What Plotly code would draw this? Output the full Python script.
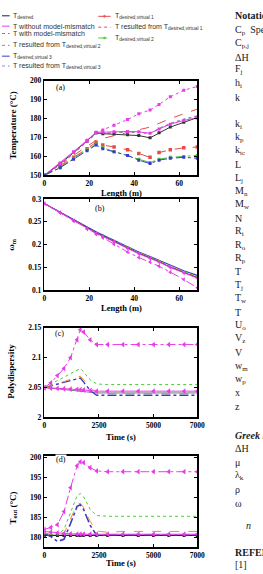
import plotly.graph_objects as go

W, H = 263, 574

# ---------------- data ----------------
length_m = [0, 7, 13, 19, 23, 26, 31, 37, 42, 47, 51, 56, 62, 68]

temp_desired = [150, 156, 162, 168, 172.5, 172, 171.8, 171.5, 171, 169.8, 172.5, 175.5, 178, 180.5]
temp_without = [150, 156.5, 162.5, 168.5, 172.8, 172.8, 173, 173.2, 173, 172.2, 174.5, 177, 179, 180.5]
temp_with = [150, 156, 162, 168, 172.5, 174, 176.5, 179.5, 182.5, 184.5, 187.5, 191.5, 195, 197]
temp_v1 = [150, 154.5, 159.5, 164, 167.5, 166, 165, 163.5, 161.5, 159.5, 162, 163.5, 164.5, 165]
temp_from_v1 = [150, 155, 160.5, 165.5, 168.5, 169.5, 171, 172.5, 174, 175.5, 177.5, 180, 182.5, 185]
temp_v2 = [150, 154, 159, 163.5, 166.5, 164.5, 162.5, 160.5, 158.5, 156.8, 158.5, 159.5, 160, 160.5]
temp_from_v2 = [150, 155.5, 161.5, 167.5, 172, 172.3, 172.5, 172.8, 172.5, 172, 174.5, 177.3, 179.5, 181.3]
temp_v3 = [150, 154, 158.5, 163, 166, 164, 162.5, 160.5, 158, 156.2, 158, 159, 159.5, 159]
temp_from_v3 = [150, 155.5, 161.5, 167.5, 172, 172.2, 172.6, 173, 172.8, 172.3, 174.8, 177.5, 179.8, 181.5]

wm_desired = [0.29, 0.27, 0.253, 0.236, 0.226, 0.219, 0.207, 0.193, 0.181, 0.171, 0.163, 0.151, 0.139, 0.128]
wm_without = [0.29, 0.27, 0.252, 0.235, 0.225, 0.218, 0.206, 0.192, 0.180, 0.170, 0.162, 0.150, 0.138, 0.127]
wm_with = [0.29, 0.27, 0.252, 0.234, 0.223, 0.215, 0.201, 0.184, 0.172, 0.162, 0.153, 0.14, 0.124, 0.106]
wm_from_v1 = [0.29, 0.27, 0.253, 0.236, 0.226, 0.219, 0.207, 0.193, 0.182, 0.172, 0.164, 0.152, 0.140, 0.129]
wm_from_v2 = [0.29, 0.271, 0.253, 0.237, 0.227, 0.220, 0.208, 0.194, 0.183, 0.173, 0.165, 0.153, 0.141, 0.130]
wm_from_v3 = [0.29, 0.271, 0.254, 0.238, 0.228, 0.221, 0.209, 0.195, 0.184, 0.174, 0.166, 0.155, 0.143, 0.133]

time_s = [0, 300, 600, 900, 1200, 1500, 1650, 1800, 2100, 2400, 2900, 3600, 4300, 5000, 5700, 6400, 7000]

pd_with = [2.05, 2.058, 2.07, 2.082, 2.1, 2.13, 2.147, 2.143, 2.13, 2.122, 2.122, 2.122, 2.122, 2.122, 2.122, 2.122, 2.122]
pd_from_v2 = [2.05, 2.056, 2.062, 2.068, 2.074, 2.08, 2.082, 2.076, 2.063, 2.056, 2.055, 2.055, 2.055, 2.055, 2.055, 2.055, 2.055]
pd_from_v1 = [2.05, 2.053, 2.056, 2.06, 2.064, 2.068, 2.069, 2.063, 2.05, 2.041, 2.040, 2.040, 2.040, 2.040, 2.040, 2.040, 2.040]
pd_from_v3 = [2.05, 2.053, 2.056, 2.059, 2.062, 2.065, 2.066, 2.059, 2.045, 2.037, 2.037, 2.037, 2.037, 2.037, 2.037, 2.037, 2.037]
pd_without = [2.05, 2.049, 2.0485, 2.048, 2.0475, 2.047, 2.0465, 2.046, 2.045, 2.044, 2.044, 2.044, 2.044, 2.044, 2.044, 2.044, 2.044]
pd_desired = [2.05, 2.049, 2.048, 2.047, 2.046, 2.045, 2.044, 2.043, 2.042, 2.041, 2.041, 2.041, 2.041, 2.041, 2.041, 2.041, 2.041]

tout_with = [182, 182.5, 183.2, 186.5, 192.5, 198, 199, 198.8, 197.5, 196.7, 196.5, 196.5, 196.5, 196.5, 196.5, 196.5, 196.5]
tout_from_v2 = [181, 180.8, 180.6, 182, 186.5, 190.5, 191, 190.2, 187, 185.5, 185.3, 185.3, 185.3, 185.3, 185.3, 185.3, 185.3]
tout_from_v1 = [181.2, 180.8, 180.3, 181, 184.5, 188.3, 188.6, 187.5, 184, 181.6, 181.3, 181.5, 181.5, 181.5, 181.5, 181.5, 181.5]
tout_from_v3 = [181, 180.2, 179, 179.5, 183.5, 187.8, 188.2, 187, 183, 180.5, 180.6, 180.6, 180.6, 180.6, 180.6, 180.6, 180.6]
tout_without = [181.5, 181.3, 181.1, 181, 180.9, 180.8, 180.8, 180.8, 180.8, 180.8, 180.8, 180.8, 180.8, 180.8, 180.8, 180.8, 180.8]
tout_desired = [180.5] * 17

# ---------------- styles ----------------
MAG = "#e83ce8"
RED = "#e84a4a"
ORA = "#f0902c"
GRN = "#4ccc3c"
BLU = "#3a3ac8"
GRY = "#8c8c8c"
LBL = "#8c8ce6"
SERIF = "Liberation Serif"
SANS = "Liberation Sans"


def px(x):
    return x / W


def py(y):
    return 1 - y / H


panels = {
    "a": (44, 203, 78, 174),
    "b": (44, 203, 198, 291),
    "c": (44, 203, 329, 420),
    "d": (44, 203, 459, 552),
}

fig = go.Figure()


def add(x, y, ax, color, dash="solid", width=1, marker=None, msize=3):
    mode = "lines+markers" if marker else "lines"
    fig.add_trace(go.Scatter(
        x=x, y=y, mode=mode, xaxis="x" + ax, yaxis="y" + ax,
        line=dict(color=color, dash=dash, width=width),
        marker=dict(symbol=marker or "circle", size=msize, color=color),
        showlegend=False, hoverinfo="skip"))


# panel (a)
add(length_m, temp_from_v3, "", LBL, "dot")
add(length_m, temp_from_v2, "", GRY, "dot")
add(length_m, temp_from_v1, "", RED, "dash")
add(length_m, temp_desired, "", "#333333", "solid", 1, "square", 3)
add(length_m, temp_without, "", MAG, "solid", 1, "square", 3)
add(length_m, temp_with, "", MAG, "dot", 1, "square", 3)
add(length_m, temp_v1, "", RED, "dash", 1, "square", 3.5)
add(length_m, temp_v2, "", GRN, "dashdot", 1, "square", 3)
add(length_m, temp_v3, "", BLU, "dashdot", 1, "square", 3)

# panel (b)
add(length_m, wm_from_v3, "2", BLU, "solid", 1.2)
add(length_m, wm_from_v2, "2", GRN, "dot")
add(length_m, wm_from_v1, "2", ORA, "dash")
add(length_m, wm_desired, "2", "#333333")
add(length_m, wm_without, "2", MAG, "solid", 1, "triangle-left", 4)
add(length_m, wm_with, "2", MAG, "dashdot", 1, "triangle-left", 4)

# panel (c)
add(time_s, pd_desired, "3", "#555555", "solid", 0.8)
add(time_s, pd_from_v3, "3", BLU, "dashdot", 1.4)
add(time_s, pd_from_v1, "3", ORA, "dash", 1)
add(time_s, pd_from_v2, "3", GRN, "dot", 1)
add(time_s, pd_without, "3", MAG, "solid", 1, "triangle-left", 5)
add(time_s, pd_with, "3", MAG, "dashdot", 1, "triangle-left", 5)

# panel (d)
add(time_s, tout_desired, "4", "#222222", "solid", 1.2, "square", 3)
add(time_s, tout_from_v3, "4", BLU, "dashdot", 1.6)
add(time_s, tout_from_v1, "4", ORA, "dash", 1)
add(time_s, tout_from_v2, "4", GRN, "dot", 1)
add(time_s, tout_without, "4", MAG, "solid", 1, "triangle-left", 5)
add(time_s, tout_with, "4", MAG, "dashdot", 1, "triangle-left", 5)

tickfont = dict(family=SERIF, size=7.5, color="black", weight="bold")


def axis_pair(key, xr, xt, yr, yt, ytt=None):
    x0, x1, y0, y1 = panels[key]
    xa = dict(domain=[px(x0), px(x1)], range=xr, tickvals=xt, ticks="inside",
              ticklen=3, tickcolor="black", showline=True, linecolor="black",
              linewidth=1.5, mirror="ticks", showgrid=False, zeroline=False,
              tickfont=tickfont, fixedrange=True)
    ya = dict(domain=[py(y1), py(y0)], range=yr, tickvals=yt, ticks="inside",
              ticklen=3, tickcolor="black", showline=True, linecolor="black",
              linewidth=1.5, mirror="ticks", showgrid=False, zeroline=False,
              tickfont=tickfont, fixedrange=True)
    if ytt:
        ya["ticktext"] = ytt
    return xa, ya


xa, ya = axis_pair("a", [0, 68], [0, 20, 40, 60], [150, 200], [150, 160, 170, 180, 190, 200])
xb, yb = axis_pair("b", [0, 68], [0, 20, 40, 60], [0.1, 0.3], [0.1, 0.15, 0.2, 0.25, 0.3],
                   ["0.1", "0.15", "0.2", "0.25", "0.3"])
xc, yc = axis_pair("c", [0, 7000], [0, 2500, 5000, 7000], [2.0, 2.15], [2.0, 2.05, 2.1, 2.15],
                   ["2", "2.05", "2.1", "2.15"])
xd, yd = axis_pair("d", [0, 7000], [0, 2500, 5000, 7000], [177.5, 200.5], [180, 185, 190, 195, 200])

xa["anchor"] = "y"; ya["anchor"] = "x"
xb["anchor"] = "y2"; yb["anchor"] = "x2"
xc["anchor"] = "y3"; yc["anchor"] = "x3"
xd["anchor"] = "y4"; yd["anchor"] = "x4"

ann = []
shapes = []


def text(x, y, s, size=9, family=SERIF, color="black", xanchor="center", angle=0, bg=None):
    d = dict(x=px(x), y=py(y), xref="paper", yref="paper", text=s, showarrow=False,
             xanchor=xanchor, yanchor="middle", textangle=angle,
             font=dict(family=family, size=size, color=color))
    if bg:
        d["bgcolor"] = bg
        d["borderpad"] = 0
    ann.append(d)


# axis titles
text(124, 192, "<b>Length (m)</b>", 8.5)
text(124, 309, "<b>Length (m)</b>", 8.5)
text(124, 440, "<b>Time (s)</b>", 8.5)
text(124, 568, "<b>Time (s)</b>", 8.5)
text(12, 124, "<b>Temperature (°C)</b>", 9, angle=-90)
text(10, 244, "<b>ω<sub>m</sub></b>", 9, angle=-90)
text(9, 373, "<b>Polydispersity</b>", 9, angle=-90)
text(12, 512, "<b>T<sub>out</sub> (°C)</b>", 9, angle=-90)

# panel labels
text(61, 85, "(a)", 8)
text(102, 208, "(b)", 8)
text(60, 335, "(c)", 8, bg="white")
text(61, 463, "(d)", 8, bg="white")

# legend
left_items = [
    (12, "#222222", "solid", "T<sub>desired</sub>"),
    (22.5, MAG, "solid", "T without model-mismatch"),
    (30, MAG, "dot", "T with model-mismatch"),
    (42, GRY, "dot", "T resulted from T<sub>desired,virtual 2</sub>"),
    (53, BLU, "dash", "T<sub>desired,virtual 3</sub>"),
    (63, LBL, "dot", "T resulted from T<sub>desired,virtual 3</sub>"),
]
for yy, col, dsh, lab in left_items:
    shapes.append(dict(type="line", xref="paper", yref="paper", x0=px(0), x1=px(8),
                       y0=py(yy), y1=py(yy), line=dict(color=col, width=1, dash=dsh)))
    text(9, yy, lab, 7, SANS, "#333333", "left")

right_items = [
    (12.5, RED, "solid", "T<sub>desired,virtual 1</sub>", True),
    (23.5, RED, "dot", "T resulted from T<sub>desired,virtual 1</sub>", False),
    (34.5, GRN, "dash", "T<sub>desired,virtual 2</sub>", True),
]
for yy, col, dsh, lab, mk in right_items:
    shapes.append(dict(type="line", xref="paper", yref="paper", x0=px(100), x1=px(113),
                       y0=py(yy), y1=py(yy), line=dict(color=col, width=1, dash=dsh)))
    if mk:
        shapes.append(dict(type="circle", xref="paper", yref="paper", x0=px(105.5), x1=px(107.5),
                           y0=py(yy + 1), y1=py(yy - 1), fillcolor=col, line=dict(color=col, width=0.5)))
    text(115, yy, lab, 7, SANS, "#333333", "left")

# right-hand column of the page
col_x = 240
rows = [
    (12, "<b>Notation</b>"),
    (27, "C<sub>p</sub>  Specific heat"),
    (40, "C<sub>p,j</sub>"),
    (54, "ΔH"),
    (67, "F<sub>j</sub>"),
    (81, "h<sub>i</sub>"),
    (95, "k"),
    (122, "k<sub>i</sub>"),
    (136, "k<sub>p</sub>"),
    (149, "k<sub>tc</sub>"),
    (163, "L"),
    (177, "L<sub>j</sub>"),
    (190, "M<sub>n</sub>"),
    (204, "M<sub>w</sub>"),
    (218, "N"),
    (231, "R<sub>i</sub>"),
    (245, "R<sub>o</sub>"),
    (259, "R<sub>p</sub>"),
    (272, "T"),
    (286, "T<sub>j</sub>"),
    (299, "T<sub>w</sub>"),
    (313, "T"),
    (327, "U<sub>o</sub>"),
    (340, "V<sub>z</sub>"),
    (354, "V"),
    (368, "w<sub>m</sub>"),
    (381, "w<sub>p</sub>"),
    (395, "x"),
    (409, "z"),
    (438, "<b><i>Greek letters</i></b>"),
    (452, "ΔH"),
    (466, "μ"),
    (479, "λ<sub>k</sub>"),
    (493, "ρ"),
    (507, "ω"),
    (557, "<b>REFERENCES</b>"),
    (569, "[1]"),
]
for yy, s in rows:
    text(col_x, yy, s, 10, SERIF, "#1a1a1a", "left")
text(252, 530, "<i>n</i>", 10, SERIF, "#1a1a1a", "left")

fig.update_layout(
    width=W, height=H, autosize=False,
    margin=dict(l=0, r=0, t=0, b=0),
    paper_bgcolor="white", plot_bgcolor="white",
    showlegend=False,
    xaxis=xa, yaxis=ya, xaxis2=xb, yaxis2=yb, xaxis3=xc, yaxis3=yc, xaxis4=xd, yaxis4=yd,
    annotations=ann, shapes=shapes,
)

fig.write_html("out.html", config={"displayModeBar": False, "staticPlot": True})
